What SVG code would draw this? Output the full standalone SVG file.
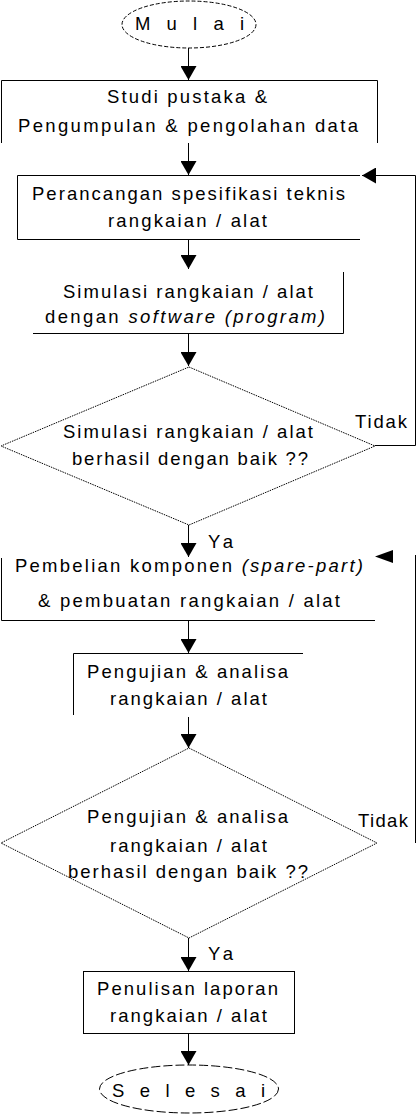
<svg xmlns="http://www.w3.org/2000/svg" width="417" height="1114" viewBox="0 0 417 1114">
<style>
text{font-family:"Liberation Sans",Arial,sans-serif;font-size:18.5px;fill:#000}
.ln{fill:none;stroke:#000;stroke-width:1}
.dia{fill:none;stroke:#000;stroke-width:1;stroke-dasharray:1.5,1}
.e1{fill:none;stroke:#000;stroke-width:1;stroke-dasharray:4,2}
.e2{fill:none;stroke:#000;stroke-width:1;stroke-dasharray:9,3}
.it{font-style:italic}
</style>
<defs>
<marker id="ah" markerUnits="userSpaceOnUse" markerWidth="16" markerHeight="16" refX="14" refY="8" orient="auto">
<path d="M0,0 L14,8 L0,16 z" fill="#000"/>
</marker>
</defs>
<rect width="417" height="1114" fill="#fff"/>
<g id="mulai">
<ellipse class="e1" cx="189" cy="24.5" rx="67" ry="23.5"/>
<text x="135" y="30" textLength="109" lengthAdjust="spacing">M u l a i</text>
</g>
<g id="studi">
<path class="ln" d="M1.5,143 V80.5 H377.5 V143"/>
<text x="107" y="103" textLength="160" lengthAdjust="spacing">Studi pustaka &amp;</text>
<text x="18" y="132" textLength="340" lengthAdjust="spacing">Pengumpulan &amp; pengolahan data</text>
</g>
<g id="perancangan">
<path class="ln" d="M360,175.5 H17.5 V239.5 H360"/>
<text x="32" y="200" textLength="313" lengthAdjust="spacing">Perancangan spesifikasi teknis</text>
<text x="108" y="227" textLength="159" lengthAdjust="spacing">rangkaian / alat</text>
</g>
<g id="simulasi">
<path class="ln" d="M343.5,272 V333.5 H33"/>
<text x="63" y="298" textLength="250" lengthAdjust="spacing">Simulasi rangkaian / alat</text>
<text x="45" y="323" textLength="280" lengthAdjust="spacing">dengan <tspan class="it">software (program)</tspan></text>
</g>
<g id="cek1">
<polygon class="dia" points="189,367 375,446 189,525 1,446"/>
<text x="63" y="438" textLength="250" lengthAdjust="spacing">Simulasi rangkaian / alat</text>
<text x="72" y="465" textLength="236" lengthAdjust="spacing">berhasil dengan baik ??</text>
</g>
<g id="pembelian">
<path class="ln" d="M1.5,558 V620.5 H375"/>
<text x="15" y="572" textLength="348" lengthAdjust="spacing">Pembelian komponen <tspan class="it">(spare-part)</tspan></text>
<text x="38" y="607" textLength="302" lengthAdjust="spacing">&amp; pembuatan rangkaian / alat</text>
</g>
<g id="pengujian">
<path class="ln" d="M303,653.5 H73.5 V715"/>
<text x="87" y="678" textLength="201" lengthAdjust="spacing">Pengujian &amp; analisa</text>
<text x="110" y="705" textLength="157" lengthAdjust="spacing">rangkaian / alat</text>
</g>
<g id="cek2">
<polygon class="dia" points="189,748 377,843 189,938 1,843"/>
<text x="87" y="823" textLength="201" lengthAdjust="spacing">Pengujian &amp; analisa</text>
<text x="110" y="852" textLength="157" lengthAdjust="spacing">rangkaian / alat</text>
<text x="68" y="878" textLength="240" lengthAdjust="spacing">berhasil dengan baik ??</text>
</g>
<g id="penulisan">
<rect class="ln" x="83.5" y="971.5" width="211" height="62"/>
<text x="97" y="995" textLength="181" lengthAdjust="spacing">Penulisan laporan</text>
<text x="110" y="1022" textLength="157" lengthAdjust="spacing">rangkaian / alat</text>
</g>
<g id="selesai">
<ellipse class="e2" cx="189" cy="1089" rx="89.5" ry="24"/>
<text x="112" y="1097" textLength="153" lengthAdjust="spacing">S e l e s a i</text>
</g>
<g id="connectors">
<path class="ln" d="M188.5,48 V80" marker-end="url(#ah)"/>
<path class="ln" d="M188.5,143 V175" marker-end="url(#ah)"/>
<path class="ln" d="M188.5,240 V269" marker-end="url(#ah)"/>
<path class="ln" d="M188.5,334 V366" marker-end="url(#ah)"/>
<path class="ln" d="M188.5,525 V557" marker-end="url(#ah)"/>
<path class="ln" d="M188.5,621 V653" marker-end="url(#ah)"/>
<path class="ln" d="M188.5,717 V748" marker-end="url(#ah)"/>
<path class="ln" d="M188.5,938 V971" marker-end="url(#ah)"/>
<path class="ln" d="M188.5,1034 V1065" marker-end="url(#ah)"/>
<path class="ln" d="M375,445.5 H415.5 V175.5 H362" marker-end="url(#ah)"/>
<path class="ln" d="M415.5,555 V843"/>
<polygon points="375,556.5 393,550 393,563" fill="#000"/>
<text x="355" y="428" textLength="52" lengthAdjust="spacing">Tidak</text>
<text x="208" y="548" textLength="25" lengthAdjust="spacing">Ya</text>
<text x="358" y="827" textLength="50" lengthAdjust="spacing">Tidak</text>
<text x="208" y="960" textLength="25" lengthAdjust="spacing">Ya</text>
</g>
</svg>
